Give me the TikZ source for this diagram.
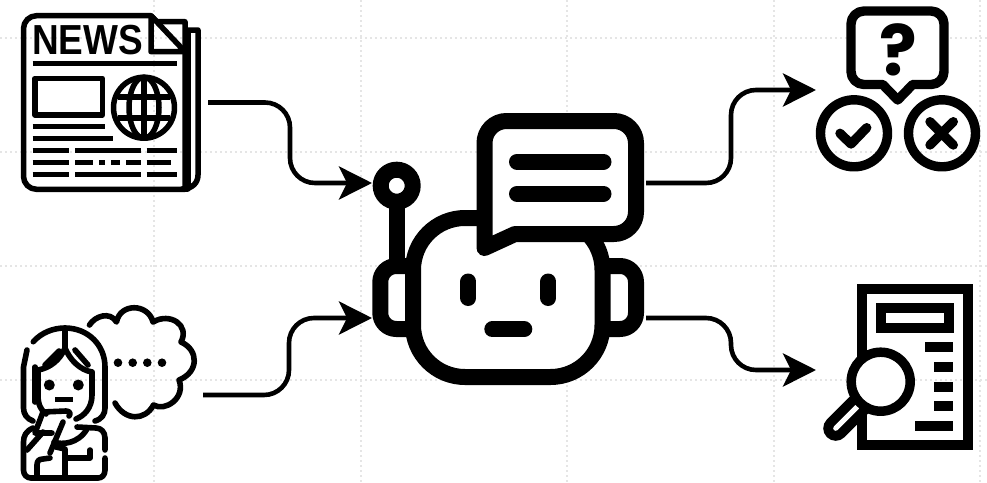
\documentclass[tikz,border=0pt]{standalone}
\usepackage{fontspec}
\setmainfont{Liberation Sans}
\newfontfamily\qmarkfont{Poppins}
\usetikzlibrary{arrows.meta}

\begin{document}
\begin{tikzpicture}[
    x=1pt,
    y=-1pt,
    gridline/.style={
        gray!20,
        line width=1.8pt,
        dash pattern=on 2.4pt off 2.6pt
    },
    slot/.style={
        inner sep=0pt,
        outer sep=0pt
    },
    connector/.style={
        -{Stealth[length=33pt,width=33pt,inset=8pt]},
        line width=4.6pt,
        rounded corners=25pt
    },
    person/.style={
        line width=5.6pt,
        line cap=round,
        line join=round
    },
    botline/.style={
        line width=16pt,
        line cap=round,
        line join=round
    },
    qaline/.style={
        line width=9.4pt,
        line cap=round,
        line join=round
    },
    docline/.style={
        line width=10pt
    }
]
\useasboundingbox (0,0) rectangle (987,482);

% Grid
\foreach \gx in {154,361,567,774,980}
    \draw[gridline] (\gx,0) -- (\gx,482);
\foreach \gy in {38,152,266,380}
    \draw[gridline] (0,\gy) -- (987,\gy);

% Slots for the icons
\node[slot, minimum width=186pt, minimum height=179pt] (news) at (115,102.5) {};
\node[slot, minimum width=181pt, minimum height=174pt] (reader) at (112.5,395) {};
\node[slot, minimum width=164pt, minimum height=168pt] (answer) at (898,90) {};
\node[slot, minimum width=156pt, minimum height=160pt] (report) at (894,370) {};
\coordinate (botintop) at (372,183);
\coordinate (botinlow) at (372,318);
\coordinate (botouttop) at (646,183);
\coordinate (botoutlow) at (646,318);

% Newspaper
\begin{scope}[line width=5.5pt, line join=round]
\draw[fill=white] (198,30) -- (188,30) -- (188,189) -- (182,189) .. controls (192,189) and (198,183) .. (198,175) -- cycle;
\draw[rounded corners=13pt] (185,189.3) -- (23.5,189.3) -- (23.5,15.7) [sharp corners] -- (151,15.7) -- (157,21.7) -- (185,21.7) -- (185,189.3);
\draw (151,15.7) -- (151,51.7) -- (185,51.7) -- cycle;
\draw (35,78.3) rectangle (102.3,115);
\draw (144,107.7) circle (30.5);
\draw (144,107.7) ellipse (15 and 30.5);
\draw (144,77) -- (144,138);
\draw (118,97) -- (170,97);
\draw (118,118) -- (170,118);
\draw (32.7,63.3) -- (176.7,63.3);
\draw (32.7,126.7) -- (105,126.7);
\draw (32.7,138.7) -- (113.3,138.7);
\draw (32.7,150.7) -- (69,150.7) (75,150.7) -- (140.7,150.7) (146.7,150.7) -- (176.7,150.7);
\draw (32.7,162.7) -- (69,162.7) (75,162.7) -- (92.7,162.7) (99,162.7) -- (105,162.7) (111,162.7) -- (120,162.7) (126,162.7) -- (140.7,162.7) (146.7,162.7) -- (170.7,162.7);
\draw (32.7,174.7) -- (69,174.7) (75,174.7) -- (140.7,174.7) (146.7,174.7) -- (176.7,174.7);
\end{scope}
\node[slot, font=\bfseries\fontsize{42}{42}\selectfont, xscale=0.88, transform shape] (newstitle) at (87.5,40) {NEWS};

% Reader with thought cloud
\begin{scope}[person]
\draw (89.5,325) .. controls (95,316) and (110,311) .. (116.5,322)
    .. controls (120,303) and (148,303) .. (153,322)
    .. controls (170,312) and (190,325) .. (181,342)
    .. controls (199,350) and (199,372) .. (179,380)
    .. controls (186,398) and (165,412) .. (153.5,405)
    .. controls (145,421) and (125,421) .. (115,403);
\fill (118,362.7) circle (4.3) (132.7,362.7) circle (4.3) (147.3,362.7) circle (4.3) (162,362.7) circle (4.3);
% hair
\draw (27,350) -- (23.5,367) -- (23.5,408) .. controls (23.5,414) and (27,419) .. (33,421);
\draw (33.3,341.7) .. controls (42,332) and (54,328) .. (65,328) .. controls (88,328) and (105,345) .. (105,367) -- (105,408) .. controls (105,414) and (102,419) .. (95,421);
\draw (65,328) -- (65,348);
\draw (65,348) .. controls (60,360) and (50,368) .. (38,370);
\draw (65,348) .. controls (70,360) and (80,370) .. (92,372);
\draw (45,365) -- (59,351);
\draw (75,350) -- (88,365);
\draw (35,367) -- (35,402);
% face
\draw (38,372) -- (38,395) .. controls (38,405) and (41,410) .. (46,414);
\draw (92,372) -- (92,395) .. controls (92,408) and (84,416) .. (76,419);
\fill (49.3,385) circle (5.5) (78.3,385) circle (5.5);
\draw[line cap=butt] (55,399.3) -- (73,399.3);
% hand and body
\draw (43,412) -- (66,411) .. controls (70,411) and (71,414) .. (69,416);
\draw (43,412) -- (35,433) -- (52,433);
\draw (63,422) -- (50,453);
\draw (33,428) .. controls (26,431) and (23.5,436) .. (23.5,442) -- (23.5,470) .. controls (23.5,475) and (27,478) .. (31,478) -- (98,478) .. controls (102,478) and (105,475) .. (105,470) -- (105,458);
\draw (105,450) -- (105,438) .. controls (105,432) and (101,428) .. (96,428) -- (77,427);
\draw (54,442) .. controls (62,445) and (78,444) .. (87,429);
\draw (27,450) -- (43,432);
\draw (37,478) -- (37,465) .. controls (37,461) and (39,459) .. (43,459) -- (50,458);
\draw (65,478) -- (65,449) -- (56,447);
\draw (90,450) -- (90,458) -- (65,458);
\end{scope}

% Robot
\draw[botline, rounded corners=16pt] (413,266) -- (380.3,266) -- (380.3,329) -- (413,329);
\draw[botline, rounded corners=16pt] (602,266) -- (636,266) -- (636,329) -- (602,329);
\draw[botline, line cap=butt] (396.7,200) -- (396.7,262);
\draw[line width=16pt, fill=white] (396.7,185.7) circle (16);
\draw[botline, fill=white, rounded corners=52pt] (413,218) rectangle (602.5,377);
\draw[botline, fill=white] (484.5,248) [rounded corners=22pt] -- (484.5,121) -- (636,121) -- (636,234) [sharp corners] -- (515,234) -- cycle;
\draw[botline] (517,161.7) -- (603.5,161.7);
\draw[botline] (517,193.7) -- (603.5,193.7);
\draw[botline] (468.3,281.5) -- (468.3,298);
\draw[botline] (548.3,281.5) -- (548.3,298);
\draw[botline] (492.3,329.3) -- (524.3,329.3);

% Question with yes and no
\draw[qaline, fill=white] (882.7,84.5) [rounded corners=13pt] -- (851,84.5) -- (851,11) -- (944,11) -- (944,84.5) [sharp corners] -- (912.7,84.5) -- (897.7,100) -- cycle;
\node[slot, font=\qmarkfont\bfseries\fontsize{70}{70}\selectfont] (qmark) at (898,50) {?};
\draw[qaline] (854,133.3) circle (33.5);
\draw[qaline] (942,133.3) circle (33.5);
\draw[qaline] (840,133.3) -- (851,144) -- (866.7,127.7);
\draw[qaline] (930,121.7) -- (953.3,145) (953.3,121.7) -- (930,145);

% Document under the lens
\draw[docline] (861.7,289) rectangle (968.3,445);
\draw[docline] (881,308.3) rectangle (949,327.7);
\draw[docline] (925,347.3) -- (953.3,347.3);
\draw[docline] (934.3,367) -- (953.3,367);
\draw[docline] (934.3,386.7) -- (953.3,386.7);
\draw[docline] (934.3,406) -- (953.3,406);
\draw[docline] (915,425.7) -- (953.3,425.7);
\draw[line width=25pt, line cap=round] (835.7,428.3) -- (862,402);
\draw[white, line width=5pt, line cap=round] (835.7,428.3) -- (857,407);
\draw[line width=9.5pt, fill=white] (880.7,381.7) circle (29.5);

% Connectors
\draw[connector] (news.east) -- (290,102.5) |- (botintop);
\draw[connector] (reader.east) -- (289,395) |- (botinlow);
\draw[connector] (botouttop) -- (731,183) |- (answer.west);
\draw[connector] (botoutlow) -- (731,318) |- (report.west);

\end{tikzpicture}
\end{document}
